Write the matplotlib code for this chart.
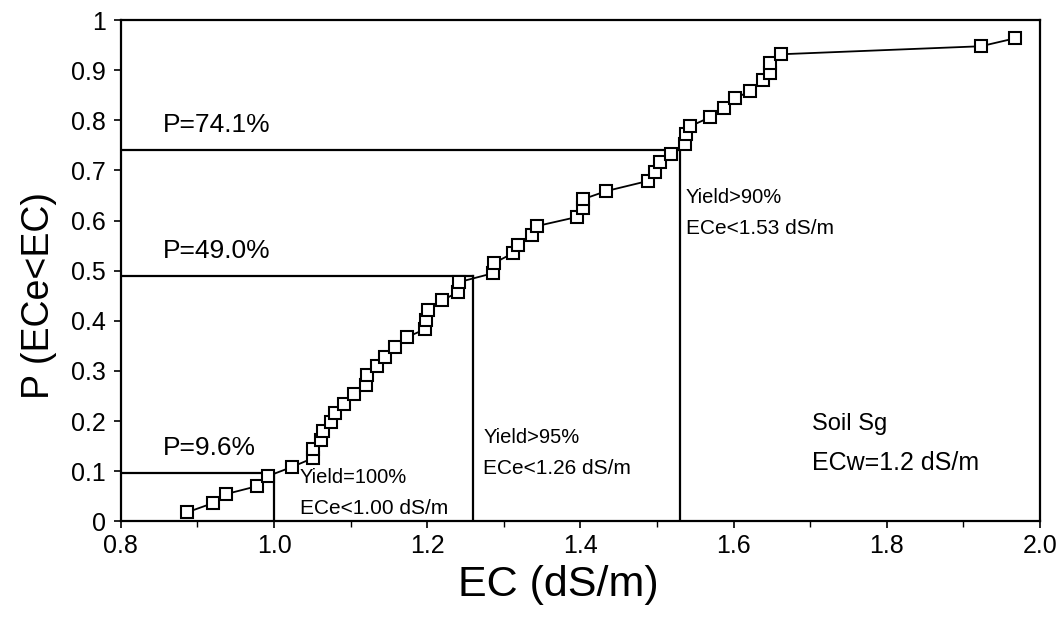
import matplotlib
matplotlib.use("Agg")
import matplotlib.pyplot as plt
from matplotlib.ticker import MultipleLocator

plt.rcParams['font.family'] = ['Liberation Sans', 'DejaVu Sans']

# measured soil salinity (dS/m) and cumulative probability P(ECe<EC)
ec = [0.887, 0.920, 0.937, 0.978, 0.992, 1.023, 1.051, 1.051, 1.062, 1.064,
      1.075, 1.079, 1.091, 1.104, 1.120, 1.121, 1.134, 1.145, 1.158, 1.173,
      1.197, 1.199, 1.201, 1.220, 1.240, 1.241, 1.286, 1.287, 1.312, 1.318,
      1.337, 1.343, 1.395, 1.404, 1.404, 1.434, 1.488, 1.497, 1.504, 1.519,
      1.536, 1.538, 1.543, 1.569, 1.587, 1.602, 1.621, 1.638, 1.647, 1.647,
      1.662, 1.923, 1.968]
prob = [0.018, 0.036, 0.054, 0.070, 0.090, 0.108, 0.126, 0.144, 0.162, 0.180,
        0.198, 0.216, 0.234, 0.253, 0.271, 0.291, 0.309, 0.327, 0.347, 0.367,
        0.383, 0.401, 0.421, 0.441, 0.457, 0.477, 0.495, 0.515, 0.535, 0.551,
        0.571, 0.589, 0.607, 0.625, 0.643, 0.659, 0.679, 0.697, 0.717, 0.733,
        0.752, 0.773, 0.788, 0.806, 0.824, 0.844, 0.858, 0.880, 0.894, 0.914,
        0.932, 0.948, 0.964]

# yield thresholds: ECe limit and the probability
thr_ec = [1.00, 1.26, 1.53]
thr_p = [0.096, 0.490, 0.741]
thr_yield = ['Yield=100%', 'Yield>95%', 'Yield>90%']
thr_pos = [(1.034, 0.088), (1.273, 0.168), (1.538, 0.647)]

fig = plt.figure(figsize=(10.6, 6.31), dpi=100)
ax = fig.add_axes([0.114, 0.174, 0.867, 0.794])

ax.plot(ec, prob, color='black', lw=1.3, marker='s', markersize=9,
        markerfacecolor='white', markeredgecolor='black', markeredgewidth=1.5,
        zorder=3)

for x, p, yl, (tx, ty) in zip(thr_ec, thr_p, thr_yield, thr_pos):
    ax.plot([0.8, x], [p, p], color='black', lw=1.6, zorder=2)
    ax.plot([x, x], [0, p], color='black', lw=1.6, zorder=2)
    ax.text(0.855, p + 0.026, 'P=%.1f%%' % (p * 100), fontsize=19,
            ha='left', va='bottom')
    ax.text(tx, ty, yl, fontsize=14.5, va='center')
    ax.text(tx, ty - 0.062, 'ECe<%.2f dS/m' % x, fontsize=15, va='center')

ax.text(1.703, 0.194, 'Soil Sg', fontsize=17, va='center')
ax.text(1.703, 0.116, 'ECw=1.2 dS/m', fontsize=18, va='center')

ax.set_xlim(0.8, 2.0)
ax.set_ylim(0, 1)
ax.xaxis.set_minor_locator(MultipleLocator(0.1))
ax.set_xticks([0.8, 1.0, 1.2, 1.4, 1.6, 1.8, 2.0])
ax.set_xticklabels(['0.8', '1.0', '1.2', '1.4', '1.6', '1.8', '2.0'])
ax.set_yticks([0, 0.1, 0.2, 0.3, 0.4, 0.5, 0.6, 0.7, 0.8, 0.9, 1.0])
ax.set_yticklabels(['0', '0.1', '0.2', '0.3', '0.4', '0.5', '0.6', '0.7',
                    '0.8', '0.9', '1'])
ax.tick_params(axis='both', which='major', labelsize=18, length=5,
               width=1.2, direction='out', pad=6)
ax.tick_params(axis='x', which='major', pad=4)
ax.tick_params(axis='x', which='minor', length=4, width=1.0)

for s in ax.spines.values():
    s.set_linewidth(1.6)

ax.set_xlabel('EC (dS/m)', fontsize=31)
ax.xaxis.set_label_coords(0.476, -0.088)
ax.set_ylabel('P (ECe<EC)', fontsize=27)
ax.yaxis.set_label_coords(-0.07, 0.45)

fig.savefig('out.png', dpi=100)
